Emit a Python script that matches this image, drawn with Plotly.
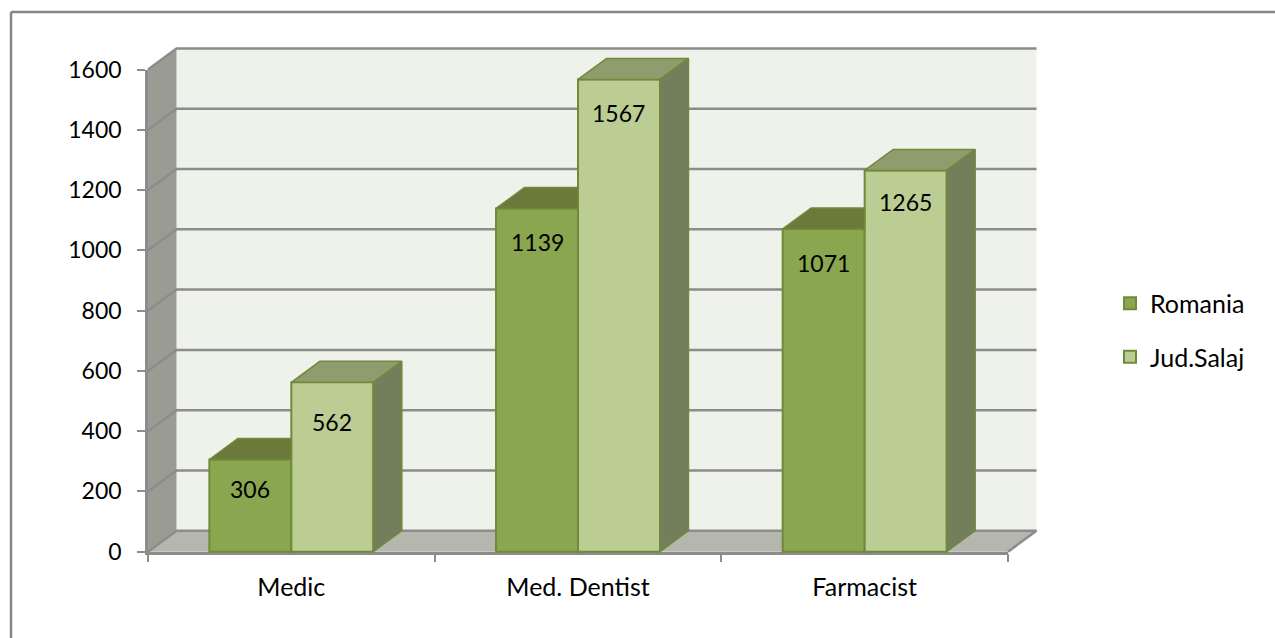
import plotly.graph_objects as go

categories = ["Medic", "Med. Dentist", "Farmacist"]
romania = [306, 1139, 1071]
salaj = [562, 1567, 1265]
y_ticks = [0, 200, 400, 600, 800, 1000, 1200, 1400, 1600]
label_shift = [[-30, -34, -34], [-40, -34, -32]]

W, H = 1275, 638
X0, X3 = 148, 1008          # pixel position of category edges 0 and 3
Y0, Y1600 = 551.7, 69.5     # pixel position of values 0 and 1600
PX_X = (X3 - X0) / 3
PX_Y = (Y0 - Y1600) / 1600
DX = 28.5 / PX_X            # faux 3D depth, in axis units
DY = 21 / PX_Y
GAP = 0.428
BAR_W = (1 - GAP) / 2

FONT = "Lato"
NUM = 23
TXT = 25
GRID = "#8C8C8C"
WALL = "#EFF2EB"
LWALL = "#9A9C94"
FLOOR = "#B5B7AF"
EDGE = "#6F8A3A"
C_ROM, C_ROM_TOP = "#8AA64E", "#6B7A3A"
C_SAL, C_SAL_TOP, C_SIDE = "#BBCD93", "#8E9C6E", "#737F5C"

pos = [i + 0.5 for i in range(len(categories))]
fig = go.Figure()

# tick-carrying axes (empty subplot below the data subplot)
fig.add_trace(go.Scatter(x=[], y=[], xaxis="x", yaxis="y", showlegend=False, hoverinfo="skip"))

fig.add_trace(go.Bar(x=pos, y=romania, name="Romania", legendgroup="a", xaxis="x2", yaxis="y2",
                     marker=dict(color=C_ROM, line=dict(color=EDGE, width=2))))
fig.add_trace(go.Bar(x=pos, y=salaj, name="Jud.Salaj", legendgroup="b", xaxis="x2", yaxis="y2",
                     marker=dict(color=C_SAL, line=dict(color=EDGE, width=2))))


def poly(xs, ys, fill):
    fig.add_trace(go.Scatter(x=xs, y=ys, mode="lines", fill="toself", fillcolor=fill,
                             line=dict(color=EDGE, width=1.5), xaxis="x2", yaxis="y2",
                             showlegend=False, hoverinfo="skip"))


for i, c in enumerate(pos):
    left, mid, right = c - BAR_W, c, c + BAR_W
    r, s = romania[i], salaj[i]
    poly([left, left + DX, mid, mid, left], [r, r + DY, r + DY, r, r], C_ROM_TOP)
    poly([mid, mid + DX, right + DX, right, mid], [s, s + DY, s + DY, s, s], C_SAL_TOP)
    poly([right, right + DX, right + DX, right, right], [0, DY, s + DY, s, 0], C_SIDE)

annotations = []
for j, series in enumerate([romania, salaj]):
    for i, v in enumerate(series):
        annotations.append(dict(x=pos[i] + (j - 0.5) * BAR_W, y=v, xref="x2", yref="y2",
                                text=str(v), showarrow=False, yshift=label_shift[j][i],
                                font=dict(family=FONT, size=NUM, color="black")))

top = y_ticks[-1]
n = len(categories)
shapes = [
    # frame of the chart area (left and top edges are the visible ones)
    dict(type="line", xref="paper", yref="paper", x0=11 / W, x1=1, y0=1 - 12 / H, y1=1 - 12 / H,
         line=dict(color="#868686", width=2.5)),
    dict(type="line", xref="paper", yref="paper", x0=11 / W, x1=11 / W, y0=0, y1=1 - 12 / H,
         line=dict(color="#868686", width=2.5)),
    # back wall
    dict(type="rect", xref="x2", yref="y2", layer="below", x0=DX, x1=n + DX, y0=DY, y1=top + DY,
         fillcolor=WALL, line=dict(width=0)),
    # left wall
    dict(type="path", xref="x2", yref="y2", layer="below",
         path=f"M0,0 L{DX},{DY} L{DX},{top + DY} L0,{top} Z", fillcolor=LWALL, line=dict(width=0)),
    # floor
    dict(type="path", xref="x2", yref="y2", layer="below",
         path=f"M0,0 L{n},0 L{n + DX},{DY} L{DX},{DY} Z", fillcolor=FLOOR, line=dict(width=0)),
]
for v in y_ticks:
    shapes.append(dict(type="path", xref="x2", yref="y2", layer="below",
                       path=f"M0,{v} L{DX},{v + DY} L{n + DX},{v + DY}",
                       line=dict(color=GRID, width=2.5)))
shapes.append(dict(type="line", xref="x2", yref="y2", layer="below", x0=n, y0=0, x1=n + DX, y1=DY,
                   line=dict(color=GRID, width=2.5)))

fig.update_layout(
    width=W, height=H, autosize=False,
    margin=dict(l=0, r=0, t=0, b=0, pad=0, autoexpand=False),
    paper_bgcolor="white", plot_bgcolor="rgba(0,0,0,0)",
    barmode="group", bargap=GAP, bargroupgap=0,
    font=dict(family=FONT, size=TXT, color="black"),
    shapes=shapes, annotations=annotations,
    xaxis=dict(domain=[X0 / W, X3 / W], range=[0, n], anchor="y", showgrid=False, zeroline=False,
               automargin=False, showline=True, linecolor=GRID, linewidth=2.5,
               tickmode="array", tickvals=pos, ticktext=categories, ticks="", ticklabelstandoff=12,
               tickfont=dict(family=FONT, size=TXT, color="black"),
               minor=dict(tickmode="array", tickvals=list(range(n + 1)), ticks="outside",
                          ticklen=8, tickwidth=2, tickcolor=GRID)),
    yaxis=dict(domain=[(H - Y0) / H, (H - Y1600) / H], range=[0, top], anchor="x", showgrid=False,
               automargin=False, zeroline=False, showline=True, linecolor=GRID, linewidth=2.5,
               tickmode="array", tickvals=y_ticks, ticks="outside", ticklen=8, tickwidth=2,
               tickcolor=GRID, ticklabelstandoff=11,
               tickfont=dict(family=FONT, size=NUM, color="black")),
    xaxis2=dict(domain=[0, 1], range=[-X0 / PX_X, (W - X0) / PX_X], anchor="y2", visible=False,
                automargin=False),
    yaxis2=dict(domain=[0, 1], range=[-(H - Y0) / PX_Y, Y0 / PX_Y], anchor="x2", visible=False,
                automargin=False),
    legend=dict(x=1110 / W, y=1 - 330 / H, xanchor="left", yanchor="middle",
                bgcolor="rgba(0,0,0,0)", tracegroupgap=18, itemwidth=30,
                font=dict(family=FONT, size=TXT, color="black")),
)

fig.write_html("out.html", config={"displayModeBar": False},
               post_script="document.body.style.margin='0';document.body.style.overflow='hidden';")
